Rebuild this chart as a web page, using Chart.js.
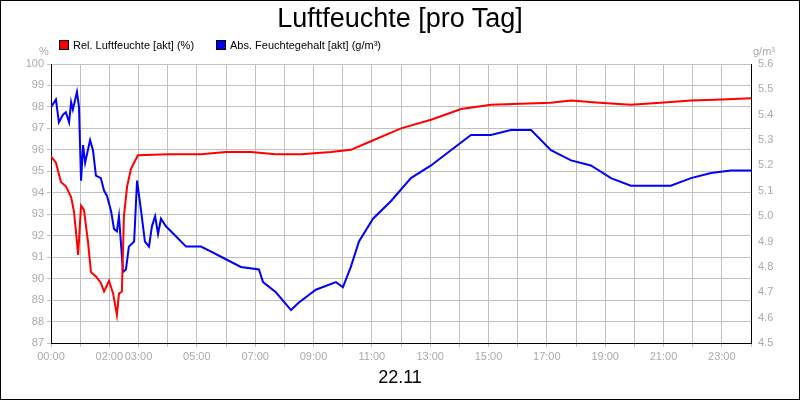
<!DOCTYPE html>
<html>
<head>
<meta charset="utf-8">
<script src="https://cdn.jsdelivr.net/npm/chart.js@4"></script>
<style>
  html, body { margin: 0; padding: 0; background: #fff; }
  #wrap { position: relative; width: 798px; height: 398px; border: 1px solid #000; font-family: "Liberation Sans", Arial, sans-serif; }
  canvas { position: absolute; left: 0; top: 0; }
  .t { position: absolute; white-space: nowrap; }
  .box { display: inline-block; width: 8px; height: 8px; border: 1px solid #000; margin-right: 4px; vertical-align: -1px; }
</style>
</head>
<body>
<div id="wrap">
  <canvas id="c" width="798" height="398"></canvas>
  <div class="t" style="left:0;width:798px;top:2px;text-align:center;font-size:27px;">Luftfeuchte [pro Tag]</div>
  <div class="t" style="left:58px;top:38px;font-size:11px;"><span class="box" style="background:#f00"></span>Rel. Luftfeuchte [akt] (%)</div>
  <div class="t" style="left:215px;top:38px;font-size:11px;"><span class="box" style="background:#00f"></span>Abs. Feuchtegehalt [akt] (g/m³)</div>
  <div class="t" style="left:38px;top:44px;font-size:11px;color:#aaa;">%</div>
  <div class="t" style="left:752px;top:44px;font-size:11px;color:#aaa;">g/m³</div>
  <div class="t" style="left:0;width:798px;top:366px;text-align:center;font-size:18px;">22.11</div>
</div>
<script>
/* Rel. Luftfeuchte (%) — hours since 00:00 */
const relHours = [0, 0.17, 0.34, 0.51, 0.69, 0.79, 0.89, 0.93, 1.03, 1.13, 1.27, 1.37, 1.54, 1.71, 1.82, 1.99, 2.13, 2.26, 2.33, 2.43, 2.5, 2.61, 2.74, 2.98, 4.0, 5.14, 6.0, 6.86, 7.7, 8.57, 9.6, 10.28, 10.97, 12.0, 13.03, 14.06, 15.08, 16.1, 17.14, 17.83, 18.8, 19.88, 20.9, 21.94, 23.0, 24.0];
const relValues = [95.7, 95.4, 94.5, 94.3, 93.8, 93.1, 91.7, 91.1, 93.4, 93.2, 91.7, 90.3, 90.1, 89.8, 89.4, 89.9, 89.3, 88.3, 89.3, 89.4, 92.9, 94.3, 95.1, 95.75, 95.8, 95.8, 95.9, 95.9, 95.8, 95.8, 95.9, 96.0, 96.4, 97.0, 97.4, 97.9, 98.1, 98.15, 98.2, 98.3, 98.2, 98.1, 98.2, 98.3, 98.35, 98.4];

/* Abs. Feuchtegehalt (g/m³) */
const absHours = [0, 0.17, 0.27, 0.41, 0.51, 0.62, 0.69, 0.75, 0.89, 0.96, 1.03, 1.1, 1.17, 1.34, 1.44, 1.54, 1.71, 1.82, 1.92, 2.06, 2.16, 2.26, 2.33, 2.47, 2.57, 2.67, 2.85, 2.95, 3.09, 3.22, 3.36, 3.46, 3.57, 3.67, 3.77, 3.94, 4.29, 4.63, 5.14, 5.49, 5.83, 6.51, 7.13, 7.27, 7.71, 8.23, 8.5, 9.08, 9.77, 10.01, 10.28, 10.56, 11.04, 11.66, 12.34, 13.03, 13.71, 14.4, 15.08, 15.77, 16.46, 17.14, 17.83, 18.51, 19.2, 19.88, 20.57, 21.25, 21.94, 22.63, 23.31, 24.0];
const absValues = [5.43, 5.46, 5.37, 5.40, 5.41, 5.37, 5.45, 5.42, 5.49, 5.43, 5.14, 5.28, 5.21, 5.30, 5.26, 5.16, 5.15, 5.10, 5.08, 5.02, 4.95, 4.94, 5.00, 4.78, 4.79, 4.88, 4.90, 5.14, 5.02, 4.90, 4.88, 4.96, 5.00, 4.93, 4.99, 4.96, 4.92, 4.88, 4.88, 4.86, 4.84, 4.80, 4.79, 4.74, 4.70, 4.63, 4.66, 4.71, 4.74, 4.72, 4.80, 4.90, 4.99, 5.06, 5.15, 5.20, 5.26, 5.32, 5.32, 5.34, 5.34, 5.26, 5.22, 5.20, 5.15, 5.12, 5.12, 5.12, 5.15, 5.17, 5.18, 5.18];

const shownHours = [0, 2, 3, 5, 7, 9, 11, 13, 15, 17, 19, 21, 23];
const pad2 = (n) => String(n).padStart(2, "0");
const pts = (xs, ys) => xs.map((x, i) => ({ x, y: ys[i] }));

const GRID = "#c0c0c0";
const TICK = "#aaaaaa";
const tickFont = { family: "Liberation Sans", size: 11 };

new Chart(document.getElementById("c"), {
  type: "line",
  data: {
    datasets: [
      { data: pts(relHours, relValues), borderColor: "#ff0000", borderWidth: 2, pointRadius: 0, yAxisID: "y", tension: 0 },
      { data: pts(absHours, absValues), borderColor: "#0000ff", borderWidth: 2, pointRadius: 0, yAxisID: "y2", tension: 0 }
    ]
  },
  options: {
    responsive: false,
    animation: false,
    layout: { padding: { top: 63, left: 0, right: 0, bottom: 0 } },
    plugins: { legend: { display: false }, tooltip: { enabled: false } },
    scales: {
      x: {
        type: "linear", min: 0, max: 24,
        afterFit: (s) => { s.height = 56; },
        grid: { color: GRID, tickLength: 4 },
        border: { color: "#000" },
        ticks: {
          stepSize: 1, color: TICK, font: tickFont, maxRotation: 0, autoSkip: false,
          callback: (v) => shownHours.includes(v) ? pad2(v) + ":00" : ""
        }
      },
      y: {
        position: "left", min: 87, max: 100,
        afterFit: (s) => { s.width = 50; },
        grid: { color: GRID, tickLength: 4 },
        border: { color: "#000" },
        ticks: { stepSize: 1, color: TICK, font: tickFont }
      },
      y2: {
        position: "right", min: 4.5, max: 5.6,
        afterFit: (s) => { s.width = 48; },
        grid: { display: false, tickLength: 4 },
        border: { color: "#000" },
        ticks: { stepSize: 0.1, color: TICK, font: tickFont, callback: (v) => v.toFixed(1) }
      }
    }
  }
});
</script>
</body>
</html>
